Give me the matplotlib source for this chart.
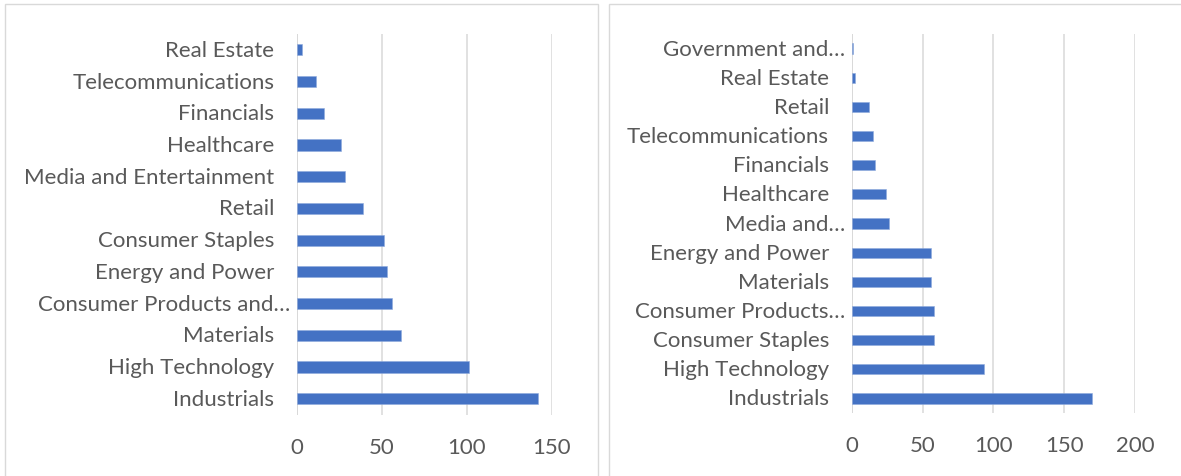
"""
Sector counts: two horizontal bar panels side by side.
"""

import matplotlib.pyplot as plt
from matplotlib.patches import Rectangle
from matplotlib.transforms import blended_transform_factory, offset_copy

# Left panel (top to bottom as listed)
left_sectors = [
    "Real Estate", "Telecommunications", "Financials", "Healthcare",
    "Media and Entertainment", "Retail", "Consumer Staples", "Energy and Power",
    "Consumer Products and…", "Materials", "High Technology", "Industrials",
]
left_values = [3, 11, 16, 26, 28, 39, 51, 53, 56, 61, 101, 142]
left_ticks = [0, 50, 100, 150]

# Right panel (top to bottom as listed)
right_sectors = [
    "Government and…", "Real Estate", "Retail", "Telecommunications",
    "Financials", "Healthcare", "Media and…", "Energy and Power", "Materials",
    "Consumer Products…", "Consumer Staples", "High Technology", "Industrials",
]
right_values = [1, 2, 12, 15, 16, 24, 26, 56, 56, 58, 58, 93, 170]
right_ticks = [0, 50, 100, 150, 200]

BAR_COLOR = "#4472C4"
GRID_COLOR = "#D9D9D9"
TEXT_COLOR = "#595959"
FONT_SIZE = 16

plt.rcParams["font.family"] = ["Lato", "DejaVu Sans"]


def draw_panel(ax, sectors, values, ticks):
    """Horizontal bar chart in the style of a default office chart."""
    n = len(sectors)
    pos = list(range(n - 1, -1, -1))
    ax.barh(pos, values, height=0.35, color=BAR_COLOR,
            edgecolor="#8FAADC", linewidth=0.4, zorder=3)

    ax.set_xlim(ticks[0], ticks[-1])
    ax.set_ylim(-0.5, n - 0.5)
    ax.set_xticks(ticks)
    ax.grid(axis="x", color=GRID_COLOR, linewidth=1.1, zorder=0)
    ax.axvline(0, color=GRID_COLOR, linewidth=1.3, zorder=2)

    for side in ["top", "right", "bottom", "left"]:
        ax.spines[side].set_visible(False)

    ax.tick_params(axis="x", length=0, pad=16, labelsize=FONT_SIZE,
                   labelcolor=TEXT_COLOR)
    ax.set_yticks([])

    # category labels; truncated ones sit closer to the axis
    base = blended_transform_factory(ax.transAxes, ax.transData)
    for y, name in zip(pos, sectors):
        shift = -5 if name.endswith("…") else -16.5
        trans = offset_copy(base, fig=ax.figure, x=shift, units="points")
        ax.text(0, y, name, transform=trans, ha="right", va="center",
                fontsize=FONT_SIZE, color=TEXT_COLOR)


fig = plt.figure(figsize=(11.81, 4.77), dpi=100)

ax_left = fig.add_axes([0.2517, 0.1289, 0.2154, 0.7977])
ax_right = fig.add_axes([0.7214, 0.1321, 0.2396, 0.7945])

draw_panel(ax_left, left_sectors, left_values, left_ticks)
draw_panel(ax_right, right_sectors, right_values, right_ticks)

# chart frames
fig.add_artist(Rectangle((5 / 1181, -0.1), 593 / 1181, 1.1 - 5 / 477,
                         transform=fig.transFigure, fill=False,
                         edgecolor=GRID_COLOR, linewidth=1.0))
fig.add_artist(Rectangle((609 / 1181, -0.1), 0.6, 1.1 - 5 / 477,
                         transform=fig.transFigure, fill=False,
                         edgecolor=GRID_COLOR, linewidth=1.0))

fig.savefig("out.png", dpi=100)
plt.close(fig)
